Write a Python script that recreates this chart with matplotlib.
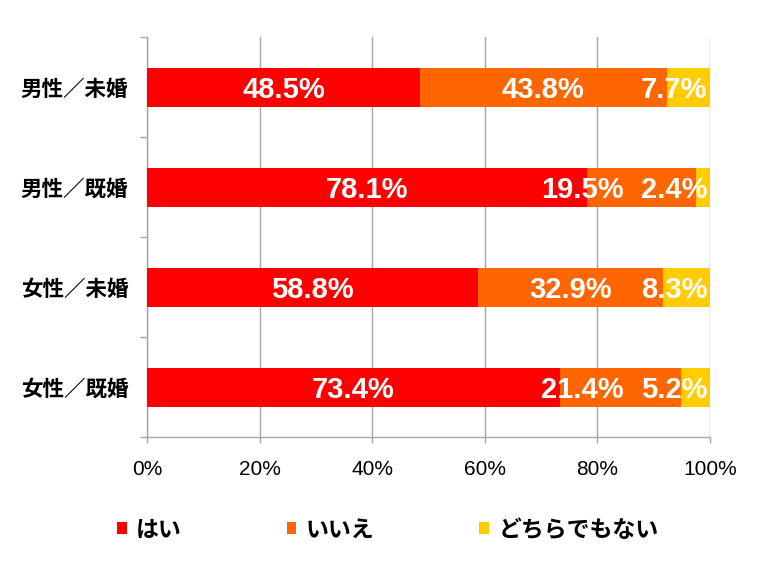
import numpy as np
import matplotlib
matplotlib.use('Agg')
import matplotlib.pyplot as plt
from matplotlib.ticker import FixedLocator

# data
categories = ['男性／未婚', '男性／既婚', '女性／未婚', '女性／既婚']
series_names = ['はい', 'いいえ', 'どちらでもない']
yes_vals = [48.5, 78.1, 58.8, 73.4]
no_vals = [43.8, 19.5, 32.9, 21.4]
neither_vals = [7.7, 2.4, 8.3, 5.2]
colors = ['#FF0000', '#FF6600', '#FFCC00']
xticks = [0, 20, 40, 60, 80, 100]

jp_font = ['Noto Sans CJK JP', 'DejaVu Sans']
num_font = ['Liberation Sans', 'DejaVu Sans']

fig = plt.figure(figsize=(7.68, 5.69), dpi=100)
ax = fig.add_axes([147 / 768, 1 - 437 / 569, 563 / 768, 400 / 569])

y = np.arange(len(categories))
series = [yes_vals, no_vals, neither_vals]
left = np.zeros(len(categories))
bars = []
for vals, name, c in zip(series, series_names, colors):
    b = ax.barh(y, vals, left=left, height=0.39, color=c, label=name, zorder=3)
    bars.append((np.array(vals), left.copy()))
    left = left + np.array(vals)

ax.set_xlim(0, 100)
ax.set_ylim(len(categories) - 0.5, -0.5)

# grid and spines
ax.set_xticks(xticks)
ax.set_xticklabels([f'{t}%' for t in xticks], family=num_font, fontsize=15)
ax.xaxis.grid(True, color='#A6A6A6', linewidth=1, zorder=0)
for s in ['top', 'right']:
    ax.spines[s].set_visible(False)
for s in ['left', 'bottom']:
    ax.spines[s].set_color('#A6A6A6')
    ax.spines[s].set_linewidth(1)
ax.tick_params(axis='x', length=4.5, width=1, color='#A6A6A6', pad=12)

ax.set_yticks(y)
ax.set_yticklabels(categories, family=jp_font, fontsize=15.5, fontweight='bold')
ax.yaxis.set_minor_locator(FixedLocator(np.arange(-0.5, len(categories), 1.0)))
ax.tick_params(axis='y', which='major', length=0, pad=13.5)
ax.tick_params(axis='y', which='minor', length=5, width=1, color='#A6A6A6')

# value labels
texts = []
for vals, lefts in bars:
    row = []
    for i, (v, l) in enumerate(zip(vals, lefts)):
        t = ax.text(l + v / 2, i + 0.03, f'{v:.1f}%', ha='center', va='center',
                    color='white', fontsize=21, fontweight='bold',
                    family=num_font, zorder=4)
        row.append(t)
    texts.append(row)

fig.canvas.draw()
renderer = fig.canvas.get_renderer()
inv = ax.transData.inverted()
right_px = ax.transData.transform((99.5, 0))[0]
for i in range(len(categories)):
    limit = right_px
    for j in reversed(range(len(series))):
        t = texts[j][i]
        bb = t.get_window_extent(renderer)
        if bb.x1 > limit:
            shift = bb.x1 - limit
            x_px = ax.transData.transform(t.get_position())[0] - shift
            t.set_x(inv.transform((x_px, 0))[0])
            x0 = bb.x0 - shift
        else:
            x0 = bb.x0
        limit = x0 - 17

leg = fig.legend(loc='center', bbox_to_anchor=(0.5046, 1 - 530 / 569), ncol=3,
                 frameon=False, handlelength=0.43, handleheight=0.43,
                 handletextpad=0.39, columnspacing=4.6, borderpad=0,
                 prop={'family': jp_font, 'size': 16.5, 'weight': 'bold'})

fig.savefig('out.png', dpi=100)
